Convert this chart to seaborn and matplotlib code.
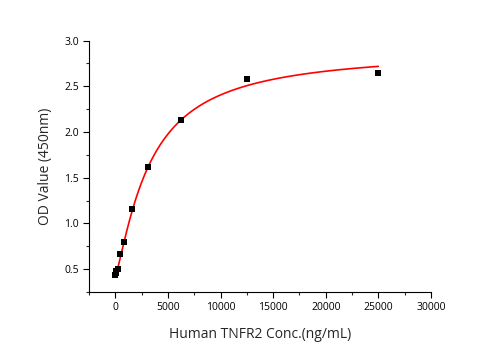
import numpy as np
import pandas as pd
import matplotlib
matplotlib.use("Agg")
import matplotlib.pyplot as plt
import seaborn as sns
from matplotlib.ticker import MultipleLocator

conc = [0, 48.8, 97.7, 195.3, 390.6, 781.25, 1562.5, 3125, 6250, 12500, 25000]
od = [0.44, 0.46, 0.48, 0.50, 0.67, 0.80, 1.16, 1.62, 2.13, 2.58, 2.65]

# 4PL fit parameters
fit_A, fit_B, fit_C, fit_D = 0.43, 1.25, 3300.0, 2.90

sns.set_style("ticks")
plt.rcParams['font.family'] = ['Open Sans', 'DejaVu Sans']

df = pd.DataFrame({"conc": conc, "od": od})
xs = np.linspace(0, 25000, 600)
curve = pd.DataFrame({"conc": xs,
                      "od": fit_D + (fit_A - fit_D) / (1 + (xs / fit_C) ** fit_B)})

fig = plt.figure(figsize=(5.01, 3.5), dpi=100)
ax = fig.add_axes([0.178, 0.166, 0.682, 0.718])
sns.lineplot(data=curve, x="conc", y="od", color="red", linewidth=1.2, ax=ax)
sns.scatterplot(data=df, x="conc", y="od", marker="s", color="black", s=24,
                edgecolor="black", linewidth=0, ax=ax, zorder=3)

ax.set_xlim(-2500, 30000)
ax.set_ylim(0.25, 3.0)
ax.xaxis.set_major_locator(MultipleLocator(5000))
ax.xaxis.set_minor_locator(MultipleLocator(2500))
ax.yaxis.set_major_locator(MultipleLocator(0.5))
ax.yaxis.set_minor_locator(MultipleLocator(0.25))
ax.set_yticks([0.5, 1.0, 1.5, 2.0, 2.5, 3.0])
ax.tick_params(axis="both", which="major", direction="out", length=4, width=0.8,
               labelsize=7.5, colors="black")
ax.tick_params(axis="both", which="minor", direction="out", length=2.5, width=0.8)
for s in ["top", "right"]:
    ax.spines[s].set_visible(False)
for s in ["left", "bottom"]:
    ax.spines[s].set_linewidth(0.8)
    ax.spines[s].set_color("black")

ax.set_xlabel("Human TNFR2 Conc.(ng/mL)", fontsize=10, labelpad=10)
ax.set_ylabel("OD Value (450nm)", fontsize=10, labelpad=8)

fig.savefig("out.png", dpi=100)
